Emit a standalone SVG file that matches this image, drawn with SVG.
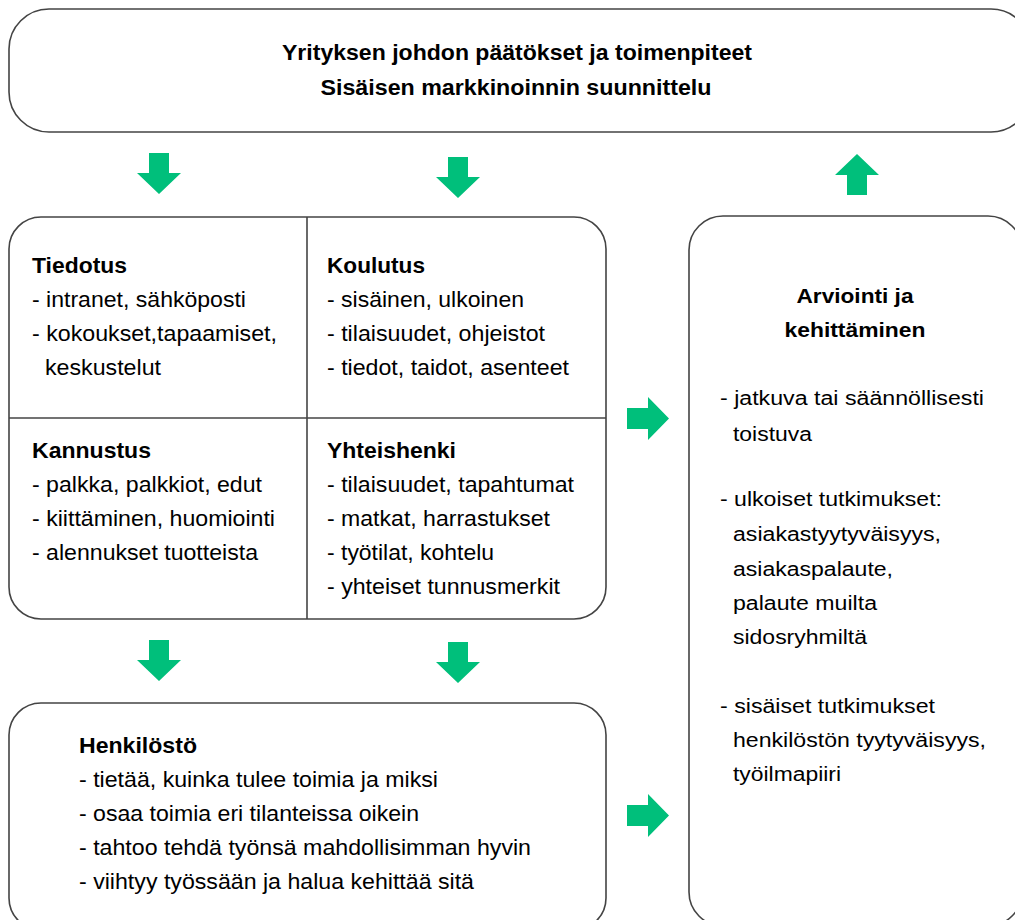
<svg xmlns="http://www.w3.org/2000/svg" width="1015" height="920" viewBox="0 0 1015 920">
<style>
.box{fill:#fff;stroke:#444;stroke-width:1.6}
.div{stroke:#444;stroke-width:1.6;fill:none}
.t{font-family:"Liberation Sans",Arial,sans-serif;font-size:22px;fill:#000}
.b{font-weight:bold}
.h{font-family:"Liberation Sans",Arial,sans-serif;font-size:22px;font-weight:bold;fill:#000}
.r{font-family:"Liberation Sans",Arial,sans-serif;font-size:20px;fill:#000}
.arr{fill:#00bf7b}
</style>
<rect width="1015" height="920" fill="#fff"/>
<g id="top">
<rect class="box" x="9" y="9" width="1022" height="123" rx="40" ry="40"/>
<text class="h" x="517" y="60" text-anchor="middle" textLength="470" lengthAdjust="spacingAndGlyphs">Yrityksen johdon päätökset ja toimenpiteet</text>
<text class="h" x="516" y="95" text-anchor="middle" textLength="391" lengthAdjust="spacingAndGlyphs">Sisäisen markkinoinnin suunnittelu</text>
</g>
<g id="middle">
<rect class="box" x="9" y="217" width="597" height="402" rx="32" ry="32"/>
<line class="div" x1="307" y1="217" x2="307" y2="619"/>
<line class="div" x1="9" y1="418" x2="606" y2="418"/>
<g id="tiedotus">
<text class="t b" x="32" y="273" textLength="95" lengthAdjust="spacingAndGlyphs">Tiedotus</text>
<text class="t" x="32" y="307" textLength="214" lengthAdjust="spacingAndGlyphs">- intranet, sähköposti</text>
<text class="t" x="32" y="341" textLength="245" lengthAdjust="spacingAndGlyphs">- kokoukset,tapaamiset,</text>
<text class="t" x="45" y="375" textLength="116" lengthAdjust="spacingAndGlyphs">keskustelut</text>
</g>
<g id="koulutus">
<text class="t b" x="327" y="273" textLength="98" lengthAdjust="spacingAndGlyphs">Koulutus</text>
<text class="t" x="327" y="307" textLength="197" lengthAdjust="spacingAndGlyphs">- sisäinen, ulkoinen</text>
<text class="t" x="327" y="341" textLength="218" lengthAdjust="spacingAndGlyphs">- tilaisuudet, ohjeistot</text>
<text class="t" x="327" y="375" textLength="242" lengthAdjust="spacingAndGlyphs">- tiedot, taidot, asenteet</text>
</g>
<g id="kannustus">
<text class="t b" x="32" y="458" textLength="119" lengthAdjust="spacingAndGlyphs">Kannustus</text>
<text class="t" x="32" y="492" textLength="230" lengthAdjust="spacingAndGlyphs">- palkka, palkkiot, edut</text>
<text class="t" x="32" y="526" textLength="243" lengthAdjust="spacingAndGlyphs">- kiittäminen, huomiointi</text>
<text class="t" x="32" y="560" textLength="226" lengthAdjust="spacingAndGlyphs">- alennukset tuotteista</text>
</g>
<g id="yhteishenki">
<text class="t b" x="327" y="458" textLength="129" lengthAdjust="spacingAndGlyphs">Yhteishenki</text>
<text class="t" x="327" y="492" textLength="247" lengthAdjust="spacingAndGlyphs">- tilaisuudet, tapahtumat</text>
<text class="t" x="327" y="526" textLength="223" lengthAdjust="spacingAndGlyphs">- matkat, harrastukset</text>
<text class="t" x="327" y="560" textLength="167" lengthAdjust="spacingAndGlyphs">- työtilat, kohtelu</text>
<text class="t" x="327" y="594" textLength="233" lengthAdjust="spacingAndGlyphs">- yhteiset tunnusmerkit</text>
</g>
</g>
<g id="henkilosto">
<rect class="box" x="9" y="703" width="597" height="227" rx="32" ry="32"/>
<text class="t b" x="79" y="753" textLength="118" lengthAdjust="spacingAndGlyphs">Henkilöstö</text>
<text class="t" x="79" y="787" textLength="359" lengthAdjust="spacingAndGlyphs">- tietää, kuinka tulee toimia ja miksi</text>
<text class="t" x="79" y="821" textLength="340" lengthAdjust="spacingAndGlyphs">- osaa toimia eri tilanteissa oikein</text>
<text class="t" x="79" y="855" textLength="452" lengthAdjust="spacingAndGlyphs">- tahtoo tehdä työnsä mahdollisimman hyvin</text>
<text class="t" x="79" y="889" textLength="395" lengthAdjust="spacingAndGlyphs">- viihtyy työssään ja halua kehittää sitä</text>
</g>
<g id="arviointi">
<rect class="box" x="689" y="216" width="333" height="710" rx="34" ry="34"/>
<text class="r b" x="855" y="303" text-anchor="middle" textLength="117" lengthAdjust="spacingAndGlyphs">Arviointi ja</text>
<text class="r b" x="855" y="337" text-anchor="middle" textLength="141" lengthAdjust="spacingAndGlyphs">kehittäminen</text>
<text class="r" x="720" y="405" textLength="264" lengthAdjust="spacingAndGlyphs">- jatkuva tai säännöllisesti</text>
<text class="r" x="733" y="441" textLength="79" lengthAdjust="spacingAndGlyphs">toistuva</text>
<text class="r" x="720" y="506" textLength="222" lengthAdjust="spacingAndGlyphs">- ulkoiset tutkimukset:</text>
<text class="r" x="733" y="541" textLength="208" lengthAdjust="spacingAndGlyphs">asiakastyytyväisyys,</text>
<text class="r" x="733" y="576" textLength="160" lengthAdjust="spacingAndGlyphs">asiakaspalaute,</text>
<text class="r" x="733" y="610" textLength="144" lengthAdjust="spacingAndGlyphs">palaute muilta</text>
<text class="r" x="733" y="644" textLength="134" lengthAdjust="spacingAndGlyphs">sidosryhmiltä</text>
<text class="r" x="720" y="713" textLength="215" lengthAdjust="spacingAndGlyphs">- sisäiset tutkimukset</text>
<text class="r" x="733" y="747" textLength="253" lengthAdjust="spacingAndGlyphs">henkilöstön tyytyväisyys,</text>
<text class="r" x="733" y="781" textLength="108" lengthAdjust="spacingAndGlyphs">työilmapiiri</text>
</g>
<g id="connectors">
<path class="arr" d="M149 153H169V173H181L159 194L137 173H149Z"/>
<path class="arr" d="M448 157H468V177H480L458 198L436 177H448Z"/>
<path class="arr" d="M847 195H867V175H879L857 154L835 175H847Z"/>
<path class="arr" d="M149 640H169V660H181L159 681L137 660H149Z"/>
<path class="arr" d="M448 642H468V662H480L458 683L436 662H448Z"/>
<path class="arr" d="M627 408H648V397L669 418.5L648 440V429H627Z"/>
<path class="arr" d="M627 805H648V794L669 815.5L648 837V826H627Z"/>
</g>
</svg>
